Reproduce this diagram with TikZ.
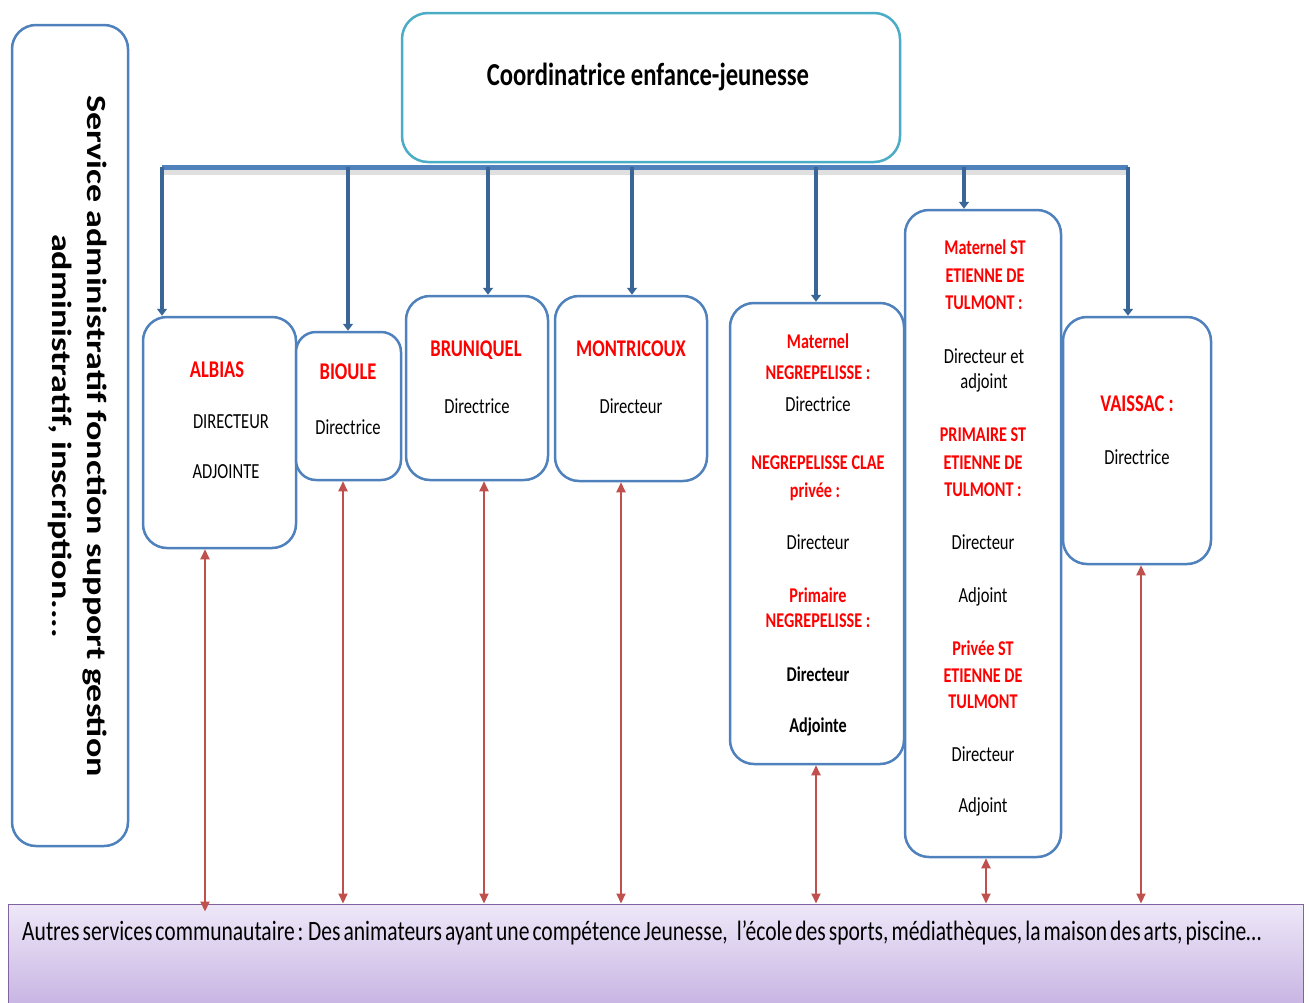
\documentclass[tikz,border=0pt]{standalone}
\usepackage{fontspec}
\setmainfont{Carlito}[FakeStretch=0.77]
\newfontfamily\plainfont{Carlito}
\usetikzlibrary{arrows.meta}
\definecolor{boxblue}{HTML}{4F81BD}
\definecolor{topline}{HTML}{4BACC6}
\definecolor{darkblue}{HTML}{3A6597}
\definecolor{arrred}{HTML}{C0504D}
\definecolor{txtred}{HTML}{FF0000}
\definecolor{barborder}{HTML}{8064A2}
\definecolor{bartop}{HTML}{EEE8F8}
\definecolor{barbot}{HTML}{C6B2E2}
\tikzset{
  box/.style={draw=boxblue, line width=2.5pt, rounded corners=24pt, fill=white, inner sep=0pt},
  rt/.style={anchor=base, inner sep=0pt, text=txtred, font=\bfseries\fontsize{24}{28}\selectfont},
  rs/.style={anchor=base, inner sep=0pt, text=txtred, font=\bfseries\fontsize{21}{25}\selectfont},
  bt/.style={anchor=base, inner sep=0pt, text=black, font=\fontsize{21.5}{25}\selectfont},
  bb/.style={anchor=base, inner sep=0pt, text=black, font=\bfseries\fontsize{21}{25}\selectfont},
  down/.style={draw=darkblue, line width=4pt, -{Triangle[width=10pt,length=7pt]}},
  both/.style={draw=arrred, line width=2pt, {Triangle[width=9pt,length=10pt]}-{Triangle[width=9pt,length=10pt]}},
}
\begin{document}
\begin{tikzpicture}[x=1pt,y=-1pt]
\useasboundingbox (0,0) rectangle (1309,1002);
\fill[white] (0,0) rectangle (1309,1002);
% left box
\node[box, minimum width=116pt, minimum height=821pt] (left) at (70,435.5) {};
\node[rotate=-90, inner sep=0pt] (svc) at (77,436) {\scalebox{1}[0.77]{\plainfont\bfseries\fontsize{36}{45}\selectfont\begin{tabular}{@{}c@{}}Service administratif fonction support gestion\\administratif, inscription....\end{tabular}}};
% top box
\node[box, draw=topline, rounded corners=26pt, minimum width=498pt, minimum height=149pt] (top) at (651,87.5) {};
\node[anchor=base, inner sep=0pt, font=\bfseries\fontsize{32}{38}\selectfont] (toptxt) at (648,85) {Coordinatrice enfance-jeunesse};
% bar
\draw[line width=5pt, gray!25] (164,172) -- (1126,172);
\coordinate (b1) at (162,167);
\coordinate (b2) at (348,167);
\coordinate (b3) at (488,167);
\coordinate (b4) at (632,167);
\coordinate (b5) at (816,167);
\coordinate (b6) at (964,167);
\coordinate (b7) at (1128,167);
\draw[line width=5pt, boxblue] (b1) -- (b7);
% boxes
\node[box, minimum width=153pt, minimum height=231pt] (albias) at (219.5,432.5) {};
\node[box, rounded corners=20pt, minimum width=105pt, minimum height=148pt] (bioule) at (348.5,406) {};
\node[box, minimum width=142pt, minimum height=184pt] (bruni) at (477,388) {};
\node[box, minimum width=152pt, minimum height=185pt] (montri) at (631,388.5) {};
\node[box, minimum width=174pt, minimum height=461pt] (negre) at (817,533.5) {};
\node[box, minimum width=156pt, minimum height=647pt] (stet) at (983,533.5) {};
\node[box, minimum width=148pt, minimum height=247pt] (vaissac) at (1137,440.5) {};
% bottom bar
\node[draw=barborder, line width=1pt, top color=bartop, bottom color=barbot, minimum width=1295pt, minimum height=106pt, inner sep=0pt] (bottom) at (655.5,957) {};
\node[anchor=base west, inner sep=0pt, font=\fontsize{28}{32}\selectfont] (bottxt) at (22,940) {\spaceskip=3pt plus 1pt\relax Autres services communautaire : Des animateurs ayant une compétence Jeunesse,\hspace{9pt}l’école des sports, médiathèques, la maison des arts, piscine…};
% blue arrows
\draw[down] (b1) -- (b1 |- albias.north);
\draw[down] (b2) -- (b2 |- bioule.north);
\draw[down] (b3) -- (b3 |- bruni.north);
\draw[down] (b4) -- (b4 |- montri.north);
\draw[down] (b5) -- (b5 |- negre.north);
\draw[down] (b6) -- (b6 |- stet.north);
\draw[down] (b7) -- (b7 |- vaissac.north);
% red arrows
\coordinate (r1) at (205,0);
\coordinate (r2) at (343,0);
\coordinate (r3) at (484,0);
\coordinate (r4) at (621,0);
\coordinate (r5) at (816,0);
\coordinate (r6) at (986,0);
\coordinate (r7) at (1141,0);
\draw[both] (r1 |- albias.south) -- ([yshift=-8pt]r1 |- bottom.north);
\draw[both] (r2 |- bioule.south) -- (r2 |- bottom.north);
\draw[both] (r3 |- bruni.south) -- (r3 |- bottom.north);
\draw[both] (r4 |- montri.south) -- (r4 |- bottom.north);
\draw[both] (r5 |- negre.south) -- (r5 |- bottom.north);
\draw[both] (r6 |- stet.south) -- (r6 |- bottom.north);
\draw[both] (r7 |- vaissac.south) -- (r7 |- bottom.north);
% texts
\node[rt] (t-albias) at (217,377) {ALBIAS};
\node[bt] (t-albias2) at (231,428) {DIRECTEUR};
\node[bt] (t-albias3) at (226,478) {ADJOINTE};
\node[rt] (t-bioule) at (348,379) {BIOULE};
\node[bt] (t-bioule2) at (348,434) {Directrice};
\node[rt] (t-bruni) at (476,356) {BRUNIQUEL};
\node[bt] (t-bruni2) at (477,413) {Directrice};
\node[rt] (t-montri) at (631,356) {MONTRICOUX};
\node[bt] (t-montri2) at (631,413) {Directeur};
\node[rs] (n1) at (818,348) {Maternel};
\node[rs] (n2) at (818,379) {NEGREPELISSE :};
\node[bt] (n3) at (818,411) {Directrice};
\node[rs] (n4) at (818,469) {NEGREPELISSE CLAE};
\node[rs] (n5) at (815,497) {privée :};
\node[bt] (n6) at (818,549) {Directeur};
\node[rs] (n7) at (818,602) {Primaire};
\node[rs] (n8) at (818,627) {NEGREPELISSE :};
\node[bb] (n9) at (818,681) {Directeur};
\node[bb] (n10) at (818,732) {Adjointe};
\node[rs] (s1) at (985,254) {Maternel ST};
\node[rs] (s2) at (985,282) {ETIENNE DE};
\node[rs] (s3) at (984,309) {TULMONT :};
\node[bt] (s4) at (984,363) {Directeur et};
\node[bt] (s5) at (984,388) {adjoint};
\node[rs] (s6) at (983,441) {PRIMAIRE ST};
\node[rs] (s7) at (983,469) {ETIENNE DE};
\node[rs] (s8) at (983,496) {TULMONT :};
\node[bt] (s9) at (983,549) {Directeur};
\node[bt] (s10) at (983,602) {Adjoint};
\node[rs] (s11) at (983,655) {Privée ST};
\node[rs] (s12) at (983,682) {ETIENNE DE};
\node[rs] (s13) at (983,708) {TULMONT};
\node[bt] (s14) at (983,761) {Directeur};
\node[bt] (s15) at (983,812) {Adjoint};
\node[rt] (t-vaissac) at (1137,411) {VAISSAC :};
\node[bt] (t-vaissac2) at (1137,464) {Directrice};
\end{tikzpicture}
\end{document}
